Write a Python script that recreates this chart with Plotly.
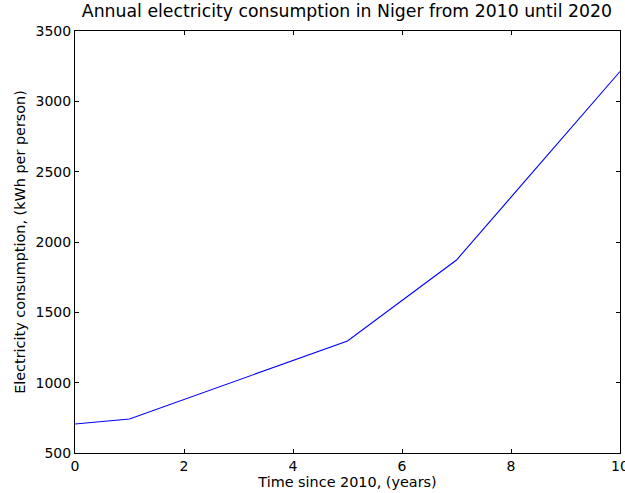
import plotly.graph_objects as go

years = [0, 1, 5, 7, 10]
consumption = [706, 742, 1296, 1872, 3212]
x_ticks = [0, 2, 4, 6, 8, 10]
y_ticks = [500, 1000, 1500, 2000, 2500, 3000, 3500]

fig = go.Figure()
fig.add_trace(go.Scatter(x=years, y=consumption, mode="lines",
                         line=dict(color="#0000ff", width=1.1)))

font = "DejaVu Sans"
axis_common = dict(showgrid=False, zeroline=False, showline=True, linecolor="black",
                   linewidth=1, mirror="ticks", ticks="inside", ticklen=4,
                   tickcolor="black", automargin=False, ticklabeloverflow="allow",
                   tickfont=dict(family=font, size=14, color="black"))
fig.update_layout(
    width=625, height=493,
    margin=dict(l=75, r=5, t=31, b=40),
    plot_bgcolor="white", paper_bgcolor="white",
    showlegend=False,
    title=dict(text="Annual electricity consumption in Niger from 2010 until 2020",
               x=0.555, xanchor="center", y=0.99, yanchor="top",
               font=dict(family=font, size=17.3, color="black")),
    xaxis=dict(range=[0, 10], tickvals=x_ticks,
               title=dict(text="Time since 2010, (years)", standoff=2,
                          font=dict(family=font, size=14.4, color="black")),
               **axis_common),
    yaxis=dict(range=[500, 3500], tickvals=y_ticks,
               title=dict(text="Electricity consumption, (kWh per person)", standoff=6,
                          font=dict(family=font, size=14.4, color="black")),
               **axis_common),
)
fig.write_html("out.html", config={"displayModeBar": False},
               post_script="document.body.style.margin='0';document.body.style.overflow='hidden';")
